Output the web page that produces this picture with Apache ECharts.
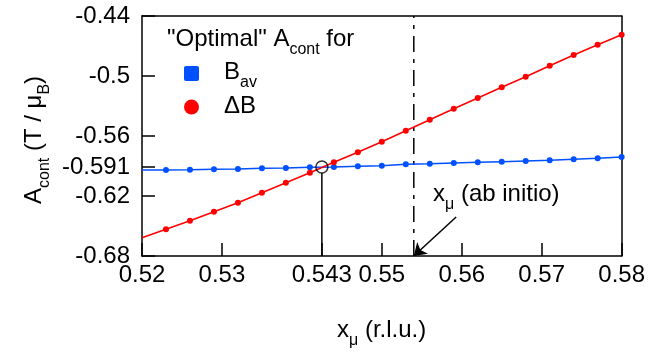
<!DOCTYPE html>
<html>
<head>
<meta charset="utf-8">
<script src="https://cdn.jsdelivr.net/npm/echarts@6/dist/echarts.min.js"></script>
<style>html,body{margin:0;padding:0;background:#fff}#c{width:648px;height:353px}</style>
</head>
<body>
<div id="c"></div>
<script>
// ---- data ----
const xValues = [0.52, 0.523, 0.526, 0.529, 0.532, 0.535, 0.538, 0.541, 0.544, 0.547, 0.55,
                 0.553, 0.556, 0.559, 0.562, 0.565, 0.568, 0.571, 0.574, 0.577, 0.58];
const bavValues = [-0.594, -0.594, -0.5937, -0.5933, -0.593, -0.5923, -0.592, -0.5913, -0.591, -0.5903, -0.5897,
                   -0.5883, -0.5877, -0.587, -0.5863, -0.5857, -0.585, -0.5843, -0.5833, -0.5823, -0.581];
const dBValues = [-0.6617, -0.6533, -0.6447, -0.6357, -0.6267, -0.6167, -0.6067, -0.5967, -0.5863, -0.5763, -0.5657,
                  -0.5547, -0.5437, -0.5327, -0.522, -0.5113, -0.5007, -0.4897, -0.479, -0.4687, -0.4587];
const xTickValues = [0.52, 0.53, 0.5425, 0.55, 0.56, 0.57, 0.58];
const xTickLabels = ['0.52', '0.53', '0.543', '0.55', '0.56', '0.57', '0.58'];
const yTickValues = [-0.68, -0.62, -0.591, -0.56, -0.5, -0.44];
const yTickLabels = ['-0.68', '-0.62', '-0.591', '-0.56', '-0.5', '-0.44'];
const crossing = [0.5425, -0.591];
const abInitioX = 0.554;
const arrowStart = [0.5593, -0.641];

const FONT = 'Liberation Sans, Arial, Helvetica, sans-serif';
const FS = 24, SFS = 16;
const blue = '#0050ff', red = '#ff0000';

const chart = echarts.init(document.getElementById('c'));

function lbl(list, vals) {
  return function (v) {
    for (let i = 0; i < vals.length; i++) if (Math.abs(v - vals[i]) < 1e-6) return list[i];
    return '';
  };
}
const rich = {
  n: { fontFamily: FONT, fontSize: FS, fill: '#000', verticalAlign: 'bottom', lineHeight: 28 },
  s: { fontFamily: FONT, fontSize: SFS, fill: '#000', verticalAlign: 'bottom', lineHeight: 20, padding: [0, 0, -7, 0] }
};

const xMin = 0.52, xMax = 0.58, yMin = -0.68, yMax = -0.44;

chart.setOption({
  animation: false,
  backgroundColor: '#fff',
  grid: { left: 142, right: 24, top: 16, bottom: 97, show: false },
  xAxis: [{
    type: 'value', min: xMin, max: xMax, position: 'bottom',
    axisLine: { show: true, onZero: false, lineStyle: { color: '#000', width: 1.5 } },
    axisTick: { show: true, inside: true, length: 13, customValues: xTickValues, lineStyle: { color: '#000', width: 1.5 } },
    axisLabel: { customValues: xTickValues, formatter: lbl(xTickLabels, xTickValues), color: '#000', fontFamily: FONT, fontSize: FS, margin: 7 },
    splitLine: { show: false }
  }, {
    type: 'value', min: xMin, max: xMax, position: 'top',
    axisLine: { show: true, onZero: false, lineStyle: { color: '#000', width: 1.5 } },
    axisTick: { show: false }, axisLabel: { show: false }, splitLine: { show: false }
  }],
  yAxis: [{
    type: 'value', min: yMin, max: yMax, position: 'left',
    axisLine: { show: true, onZero: false, lineStyle: { color: '#000', width: 1.5 } },
    axisTick: { show: true, inside: true, length: 13, customValues: yTickValues, lineStyle: { color: '#000', width: 1.5 } },
    axisLabel: { customValues: yTickValues, formatter: lbl(yTickLabels, yTickValues), color: '#000', fontFamily: FONT, fontSize: FS, margin: 12 },
    splitLine: { show: false }
  }, {
    type: 'value', min: yMin, max: yMax, position: 'right',
    axisLine: { show: true, onZero: false, lineStyle: { color: '#000', width: 1.5 } },
    axisTick: { show: false }, axisLabel: { show: false }, splitLine: { show: false }
  }],
  series: [
    {
      type: 'line', name: 'dashdot', xAxisIndex: 0, yAxisIndex: 0,
      data: [[abInitioX, yMin], [abInitioX, yMax]], symbol: 'none',
      lineStyle: { color: '#000', width: 1.5, type: [16, 7, 4, 7] }, z: 1
    },
    {
      type: 'line', name: 'Bav', data: xValues.map((x, i) => [x, bavValues[i]]),
      symbol: 'circle', symbolSize: (v, p) => p.dataIndex === 0 ? 0 : 6, showSymbol: true,
      itemStyle: { color: blue }, lineStyle: { color: blue, width: 1.5 }, clip: true, z: 2
    },
    {
      type: 'line', name: 'dB', data: xValues.map((x, i) => [x, dBValues[i]]),
      symbol: 'circle', symbolSize: (v, p) => p.dataIndex === 0 ? 0 : 6, showSymbol: true,
      itemStyle: { color: red }, lineStyle: { color: red, width: 1.5 }, clip: true, z: 3
    },
    {
      type: 'line', name: 'drop', data: [[crossing[0], yMin], [crossing[0], crossing[1] - 0.006]],
      symbol: 'none', lineStyle: { color: '#000', width: 1.5 }, z: 4
    },
    {
      type: 'scatter', name: 'circle', data: [crossing], symbol: 'circle', symbolSize: 12,
      itemStyle: { color: 'rgba(0,0,0,0)', borderColor: '#000', borderWidth: 1.5 }, z: 5
    },
    {
      type: 'lines', coordinateSystem: 'cartesian2d', name: 'arrow',
      data: [{ coords: [arrowStart, [abInitioX, yMin]] }],
      symbol: ['none', 'arrow'], symbolSize: 12,
      lineStyle: { color: '#000', width: 1.5, opacity: 1 }, z: 6
    }
  ],
  graphic: [
    { type: 'text', left: 167, top: 27, style: { text: '{n|"Optimal" A}{s|cont}{n| for}', rich: rich } },
    { type: 'rect', shape: { x: 184, y: 66, width: 15, height: 15, r: 2 }, style: { fill: blue } },
    { type: 'text', left: 224, top: 60, style: { text: '{n|B}{s|av}', rich: rich } },
    { type: 'circle', shape: { cx: 191.5, cy: 107, r: 7.5 }, style: { fill: red } },
    { type: 'text', left: 224, top: 94, style: { text: 'ΔB', fontFamily: FONT, fontSize: FS, fill: '#000' } },
    { type: 'text', left: 433, top: 182, style: { text: '{n|x}{s|μ}{n| (ab initio)}', rich: rich } },
    { type: 'text', left: 337, top: 318, style: { text: '{n|x}{s|μ}{n| (r.l.u.)}', rich: rich } },
    { type: 'text', x: 18, y: 204, rotation: Math.PI / 2, style: { text: '{n|A}{s|cont}{n| (T / μ}{s|B}{n|)}', rich: rich } }
  ]
});
</script>
</body>
</html>
